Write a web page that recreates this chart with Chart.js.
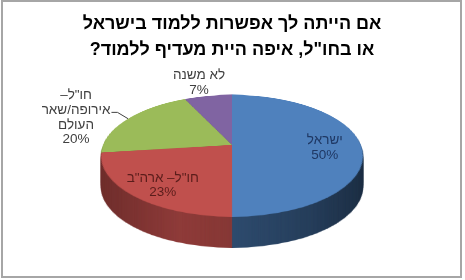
<!DOCTYPE html>
<html>
<head>
<meta charset="utf-8">
<script src="https://cdn.jsdelivr.net/npm/chart.js@4.4.1/dist/chart.umd.min.js"></script>
<style>
  html, body { margin: 0; padding: 0; background: #fff; }
  canvas { display: block; direction: rtl; }
</style>
</head>
<body>
<canvas id="study_chart" width="465" height="280"></canvas>
<script>
const titleLines = ['אם הייתה לך אפשרות ללמוד בישראל', 'או בחו"ל, איפה היית מעדיף ללמוד?'];
const categories = [['ישראל'], ['חו"ל– ארה"ב'], ['חו"ל–', 'אירופה/שאר', 'העולם'], ['לא משנה']];
const values = [50, 23, 20, 7];
const sliceColors = ['#4f81bd', '#c0504d', '#9bbb59', '#8064a2'];

// perspective of the tilted pie (fractions of the radius) and its thickness in px
const tilt = {sx: 0.984, sy: 0.45, k: 0.18, depth: 31};

// where each data label sits: fraction of radius along the mid angle, plus a nudge
const labelPlace = [
    {f: 0.72, dx: 0, dy: 3, color: '#1f3864'},
    {f: 0.76, dx: 3, dy: 3, color: '#5a1d1b'},
    {f: 1, dx: -52, dy: -1, color: '#404040', leader: true},
    {f: 1, dx: -9, dy: -13, color: '#404040'}
];

function project(p, angle, f) {
    const u = f * Math.cos(angle), v = f * Math.sin(angle);
    const w = 1 - tilt.k * v;
    return {x: p.cx + tilt.sx * p.r * u / w, y: p.cy + tilt.sy * p.r * v / w};
}

function pieGeometry(chart) {
    const a = chart.getDatasetMeta(0).data[0];
    return {cx: a.x, cy: a.y, r: a.outerRadius};
}

const pie3d = {
    id: 'pie3d',
    beforeDraw(chart) {
        chart.ctx.direction = 'rtl';
    },
    beforeDatasetsDraw(chart) {
        const ctx = chart.ctx;
        const arcs = chart.getDatasetMeta(0).data;
        const p = pieGeometry(chart);

        // flat pie, drawn by the arc elements themselves
        const size = Math.ceil(2 * p.r + 8);
        const flat = document.createElement('canvas');
        flat.width = flat.height = size;
        const fctx = flat.getContext('2d');
        fctx.translate(size / 2 - p.cx, size / 2 - p.cy);
        arcs.forEach(a => a.draw(fctx));

        // tilt it row by row
        const W = chart.width, H = chart.height;
        const top = document.createElement('canvas');
        top.width = W; top.height = H;
        const tctx = top.getContext('2d');
        const ry = tilt.sy * p.r;
        const rowToV = t => t / (ry + tilt.k * t);
        const y0 = Math.floor(p.cy - ry / (1 + tilt.k)) - 2;
        const y1 = Math.ceil(p.cy + ry / (1 - tilt.k)) + 2;
        for (let y = y0; y <= y1; y++) {
            let v0 = rowToV(y - p.cy), v1 = rowToV(y + 1 - p.cy);
            if (v1 <= -1 || v0 >= 1) continue;
            v0 = Math.max(v0, -1); v1 = Math.min(v1, 1);
            const s = tilt.sx / (1 - tilt.k * (v0 + v1) / 2);
            tctx.drawImage(flat, 0, size / 2 + v0 * p.r, size, Math.max((v1 - v0) * p.r, 0.01),
                p.cx - size / 2 * s, y, size * s, 1);
        }

        // darker copy for the side wall
        const side = document.createElement('canvas');
        side.width = W; side.height = H;
        const sctx = side.getContext('2d');
        sctx.drawImage(top, 0, 0);
        sctx.globalCompositeOperation = 'source-atop';
        const g = sctx.createLinearGradient(p.cx - p.r, 0, p.cx + p.r, 0);
        g.addColorStop(0, 'rgba(0,0,0,0.42)');
        g.addColorStop(0.3, 'rgba(0,0,0,0.26)');
        g.addColorStop(0.499, 'rgba(0,0,0,0.3)');
        g.addColorStop(0.5, 'rgba(0,0,0,0.42)');
        g.addColorStop(0.8, 'rgba(0,0,0,0.52)');
        g.addColorStop(1, 'rgba(0,0,0,0.64)');
        sctx.fillStyle = g;
        sctx.fillRect(0, 0, W, H);

        for (let d = tilt.depth; d >= 1; d--) {
            ctx.drawImage(side, 0, d);
        }
        ctx.drawImage(top, 0, 0);
        return false;
    },
    afterDraw(chart) {
        const ctx = chart.ctx;
        const arcs = chart.getDatasetMeta(0).data;
        const p = pieGeometry(chart);
        const total = values.reduce((s, v) => s + v, 0);
        ctx.save();
        ctx.direction = 'rtl';
        ctx.font = '13.5px "Liberation Sans", Arial, sans-serif';
        ctx.textAlign = 'center';
        ctx.textBaseline = 'middle';
        arcs.forEach((a, i) => {
            const place = labelPlace[i];
            const mid = (a.startAngle + a.endAngle) / 2;
            const anchor = project(p, mid, place.f);
            const lines = categories[i].concat([Math.round(values[i] / total * 100) + '%']);
            const lh = 14.7;
            const cx = anchor.x + place.dx, cy = anchor.y + place.dy;
            const firstY = cy - (lines.length - 1) * lh / 2;
            ctx.fillStyle = place.color;
            lines.forEach((t, j) => ctx.fillText(t, cx, firstY + j * lh));
            if (place.leader) {
                const w = ctx.measureText(lines[1]).width;
                const lx = cx + w / 2 + 1, ly = firstY + lh + 2;
                ctx.strokeStyle = '#404040';
                ctx.lineWidth = 1;
                ctx.beginPath();
                ctx.moveTo(lx, ly);
                ctx.lineTo(lx + 6, ly);
                ctx.lineTo(anchor.x, anchor.y);
                ctx.stroke();
            }
        });
        // frame
        ctx.strokeStyle = '#a6a6a6';
        ctx.lineWidth = 2;
        ctx.strokeRect(2, 1, 459, 276);
        ctx.restore();
    }
};

new Chart(document.getElementById('study_chart'), {
    type: 'pie',
    data: {
        labels: categories,
        datasets: [{
            data: values,
            backgroundColor: sliceColors,
            borderWidth: 0,
            radius: 131
        }]
    },
    options: {
        responsive: false,
        animation: false,
        layout: {
            padding: {top: 0, bottom: 60, left: 0, right: 1}
        },
        plugins: {
            legend: {
                display: false
            },
            tooltip: {
                enabled: false
            },
            title: {
                display: true,
                text: titleLines,
                color: '#000',
                font: {family: '"Liberation Sans", Arial, sans-serif', size: 18, weight: 'bold', lineHeight: 1.45},
                padding: {top: 11, bottom: 6.5}
            }
        }
    },
    plugins: [pie3d]
});
</script>
</body>
</html>
